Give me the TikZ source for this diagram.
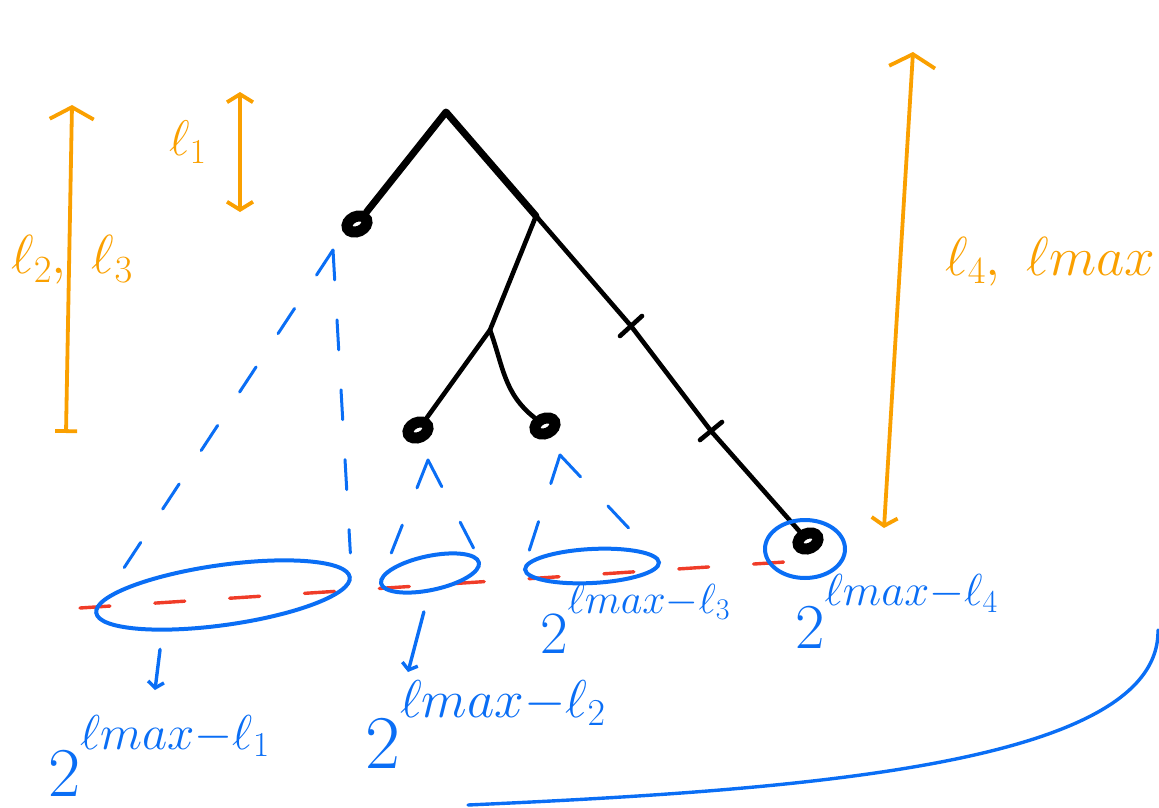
\RequirePackage{fix-cm}
\documentclass[tikz,border=0pt]{standalone}
\usepackage{amsmath}
\usetikzlibrary{arrows.meta,positioning,calc,shapes.geometric}
\definecolor{penblue}{RGB}{10,110,245}
\definecolor{penorange}{RGB}{250,160,0}
\definecolor{penred}{RGB}{240,60,40}
\tikzset{
  treeln/.style={line width=4.6pt, line cap=round, line join=round},
  rootln/.style={treeln, line width=7pt},
  leafdot/.style={ellipse, draw=black, fill=white, line width=11pt, minimum width=21pt, minimum height=15pt, inner sep=0pt, rotate=25},
  coneln/.style={penblue, line width=3pt, line cap=round, dash pattern=on 30pt off 40pt},
  setln/.style={ellipse, draw=penblue, line width=4pt, inner sep=0pt},
  levelln/.style={penred, line width=3.4pt, line cap=round, dash pattern=on 30pt off 45pt},
  lenln/.style={penorange, line width=3.8pt, line cap=round},
  pointln/.style={penblue, line width=3.4pt, line cap=round, -{Straight Barb[length=6pt,width=16pt]}},
  lenlab/.style={penorange, inner sep=0pt},
  sizelab/.style={penblue, inner sep=0pt, anchor=base west},
}
\newcommand{\pwtwo}[1]{2^{\raisebox{.3em}{$\scriptstyle #1$}}}
\begin{document}
\begin{tikzpicture}[x=1pt,y=1pt]
  \useasboundingbox (0,0) rectangle (1159,-808);
  % level line
  \coordinate (r0) at (80,-608);
  \coordinate (r1) at (800,-561);
  \draw[levelln] (r0) -- (r1);
  % Tree
  \coordinate (root) at (446,-112);
  \coordinate (nr) at (536,-216);
  \coordinate (nm) at (490,-330);
  \coordinate (t1) at (631,-326);
  \coordinate (t2) at (711,-431);
  \node[leafdot] (la) at (357,-224) {};
  \node[leafdot] (lb) at (418,-430) {};
  \node[leafdot] (lc) at (545,-426) {};
  \node[leafdot] (ld) at (808,-541) {};
  \draw[rootln] (la) -- (root) -- (nr);
  \draw[treeln] (nr) -- (nm) -- (lb);
  \draw[treeln] (nm) to[out=-70,in=135] (lc);
  \draw[treeln] (nr) -- (t1) -- (t2) -- (ld);
  \draw[treeln] (t1) ++(-11,-10) -- ++(22,20);
  \draw[treeln] (t2) ++(-11,-9) -- ++(22,18);
  % sets of leaves at the bottom level
  \node[setln, minimum width=256pt, minimum height=60pt, rotate=8] (setA) at (223,-595) {};
  \node[setln, minimum width=100pt, minimum height=34pt, rotate=12] (setB) at (430,-573) {};
  \node[setln, minimum width=134pt, minimum height=34pt, rotate=3] (setC) at (592,-566) {};
  \node[setln, minimum width=80pt, minimum height=58pt] (setD) at (805,-549) {};
  % cones under the leaves
  \coordinate (apA) at (333,-250);
  \coordinate (apB) at (428,-460);
  \coordinate (apC) at (560,-455);
  \draw[coneln, shorten >=24pt] (apA) -- (setA.west);
  \draw[coneln, shorten >=24pt] (apA) -- (setA.east);
  \draw[coneln, shorten >=20pt] (apB) -- (setB.west);
  \draw[coneln, shorten >=16pt] (apB) -- (setB.east);
  \draw[coneln, shorten >=20pt] (apC) -- (setC.west);
  \draw[coneln, shorten >=10pt] (apC) -- (setC.east);
  % sizes
  \node[sizelab, font=\fontsize{70}{80}\selectfont] (labA) at (48,-796) {$\pwtwo{\ell max-\ell_1}$};
  \node[sizelab, font=\fontsize{76}{86}\selectfont] (labB) at (365,-768) {$\pwtwo{\ell max-\ell_2}$};
  \node[sizelab, font=\fontsize{60}{70}\selectfont] (labC) at (540,-653) {$\pwtwo{\ell max-\ell_3}$};
  \node[sizelab, font=\fontsize{64}{74}\selectfont] (labD) at (795,-648) {$\pwtwo{\ell max-\ell_4}$};
  \coordinate (hA) at (155,-690);
  \coordinate (hB) at (408,-672);
  \draw[pointln, shorten <=18pt] (setA.203) -- (hA);
  \draw[pointln, shorten <=20pt] (setB.-105) -- (hB);
  % depth arrows
  \coordinate (dA0) at (66,-433);
  \coordinate (dA1) at (72,-105);
  \draw[lenln, {Bar[width=22pt]}-{Straight Barb[length=12pt,width=44pt]}] (dA0) -- (dA1);
  \node[lenlab, font=\fontsize{55}{65}\selectfont] (lab23) at (72,-260) {$\ell_2,\hspace{16pt}\ell_3$};
  \coordinate (dB0) at (240,-212);
  \coordinate (dB1) at (240,-92);
  \draw[lenln, {Straight Barb[length=8pt,width=26pt]}-{Straight Barb[length=8pt,width=26pt]}] (dB0) -- (dB1);
  \node[lenlab, font=\fontsize{50}{60}\selectfont] (lab1) at (188,-142) {$\ell_1$};
  \coordinate (dC0) at (884,-528);
  \coordinate (dC1) at (913,-52);
  \draw[lenln, {Straight Barb[length=8pt,width=26pt]}-{Straight Barb[length=13pt,width=46pt]}] (dC0) -- (dC1);
  \node[lenlab, anchor=base west, font=\fontsize{55}{65}\selectfont] (lab4) at (945,-275) {$\ell_4,\ \ell max$};
  % brace under the tree
  \coordinate (brA) at (468,-805);
  \coordinate (brB) at (1158,-630);
  \draw[penblue, line width=3.4pt, line cap=round] (brA) .. controls (800,-790) and (1160,-765) .. (brB);
\end{tikzpicture}
\end{document}
